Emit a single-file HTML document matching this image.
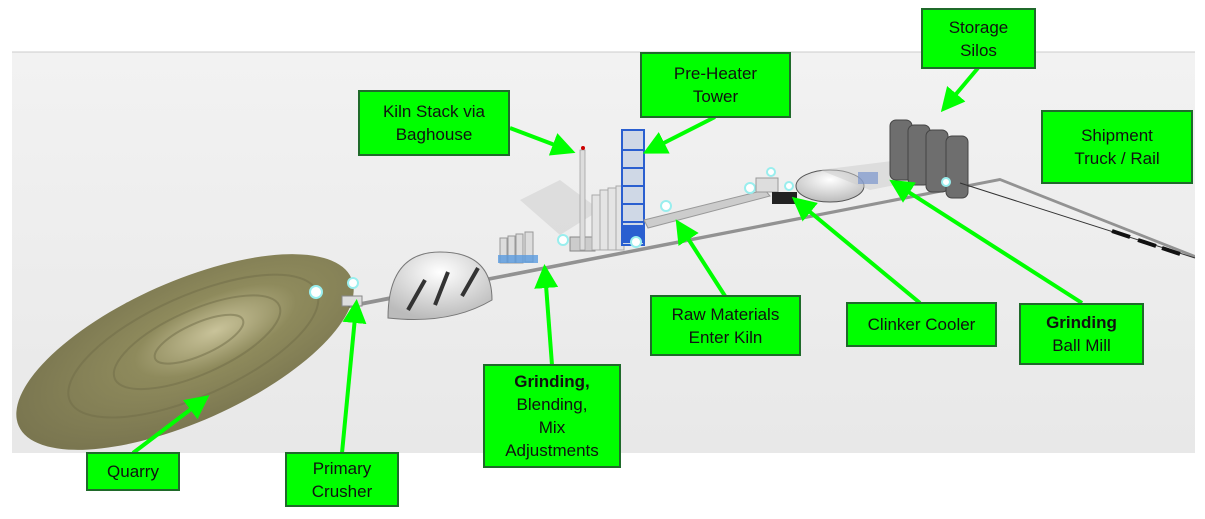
<!DOCTYPE html>
<html><head><style>
body{margin:0;width:1205px;height:519px;background:#fff;overflow:hidden;font-family:"Liberation Sans",sans-serif}
.l{position:absolute;background:#00ff00;border:2px solid #1f6a2a;box-sizing:border-box;display:flex;align-items:center;justify-content:center;text-align:center;font-size:17px;line-height:23px;color:#111}
</style></head><body>
<svg width="1205" height="519" style="position:absolute;left:0;top:0">
<defs>
<linearGradient id="bg" x1="0" y1="0" x2="0" y2="1"><stop offset="0" stop-color="#f2f2f2"/><stop offset="1" stop-color="#e8e8e8"/></linearGradient>
<radialGradient id="q" cx="0.6" cy="0.45" r="0.6"><stop offset="0" stop-color="#c9c39a"/><stop offset="0.4" stop-color="#8e8a5c"/><stop offset="1" stop-color="#7a7650"/></radialGradient>
<radialGradient id="d" cx="0.5" cy="0.3" r="0.7"><stop offset="0" stop-color="#fff"/><stop offset="1" stop-color="#bbb"/></radialGradient>
<marker id="a" markerWidth="6" markerHeight="6" refX="4" refY="3" orient="auto"><path d="M0,0 L6,3 L0,6z" fill="#00ff00"/></marker>
</defs>
<rect x="12" y="52" width="1183" height="401" fill="url(#bg)"/>
<line x1="12" y1="52" x2="1195" y2="52" stroke="#ccc"/>
<!-- quarry -->
<g transform="rotate(-24 185 352)">
<ellipse cx="185" cy="352" rx="182" ry="70" fill="url(#q)"/>
<ellipse cx="195" cy="350" rx="135" ry="50" fill="none" stroke="#6f6b47" stroke-width="2" opacity=".5"/>
<ellipse cx="200" cy="348" rx="90" ry="32" fill="none" stroke="#6f6b47" stroke-width="2" opacity=".5"/>
<ellipse cx="203" cy="346" rx="48" ry="16" fill="none" stroke="#6f6b47" stroke-width="2" opacity=".5"/>
</g>
<circle cx="316" cy="292" r="6" fill="#fff" stroke="#9ee" stroke-width="2"/>
<circle cx="353" cy="283" r="5" fill="#fff" stroke="#9ee" stroke-width="2"/>
<!-- line of plant -->
<polygon points="345,305 1000,178 1195,255 1195,258 1000,181 350,308" fill="#555" opacity=".6"/>
<rect x="342" y="296" width="20" height="10" fill="#ddd" stroke="#888"/>
<!-- dome -->
<path d="M388,318 Q388,252 440,252 Q492,252 492,300 Q450,325 388,318 Z" fill="url(#d)" stroke="#777"/>
<path d="M408,310 L425,280 M435,305 L448,272 M462,296 L478,268" stroke="#333" stroke-width="4"/>
<!-- silos raw -->
<g fill="#ddd" stroke="#999"><rect x="500" y="238" width="7" height="25"/><rect x="508" y="236" width="7" height="27"/><rect x="516" y="234" width="7" height="29"/><rect x="525" y="232" width="8" height="30"/></g>
<rect x="498" y="255" width="40" height="8" fill="#5a9be0" opacity=".8"/>
<circle cx="563" cy="240" r="5" fill="#fff" stroke="#9ee" stroke-width="2"/>
<rect x="570" y="237" width="25" height="14" fill="#ccc" stroke="#888"/>
<!-- stack -->
<polygon points="520,200 560,180 600,210 560,235" fill="#ccc" opacity=".5"/>
<rect x="580" y="150" width="5" height="100" fill="#ddd" stroke="#999" stroke-width=".7"/>
<circle cx="583" cy="148" r="2" fill="#c00"/>
<g fill="#e4e4e4" stroke="#aaa"><rect x="592" y="195" width="8" height="55"/><rect x="600" y="190" width="8" height="60"/><rect x="608" y="188" width="8" height="62"/><rect x="616" y="186" width="8" height="64"/></g>
<!-- tower -->
<rect x="622" y="130" width="22" height="115" fill="#cfd8e6" stroke="#2a5fd0" stroke-width="2"/>
<path d="M622,150H644M622,168H644M622,186H644M622,204H644M622,222H644" stroke="#2a5fd0" stroke-width="2"/>
<rect x="623" y="225" width="20" height="18" fill="#2a5fd0"/>
<circle cx="636" cy="242" r="5" fill="#fff" stroke="#9ee" stroke-width="2"/>
<!-- kiln -->
<polygon points="644,220 765,190 770,196 648,228" fill="#ccc" stroke="#999"/>
<circle cx="666" cy="206" r="5" fill="#fff" stroke="#9ee" stroke-width="2"/>
<circle cx="750" cy="188" r="5" fill="#fff" stroke="#9ee" stroke-width="2"/>
<circle cx="771" cy="172" r="4" fill="#fff" stroke="#9ee" stroke-width="2"/>
<rect x="756" y="178" width="22" height="14" fill="#ddd" stroke="#999"/>
<rect x="772" y="192" width="25" height="12" fill="#222"/>
<ellipse cx="830" cy="186" rx="34" ry="16" fill="url(#d)" stroke="#555"/>
<circle cx="789" cy="186" r="4" fill="#fff" stroke="#9ee" stroke-width="2"/>
<rect x="858" y="172" width="20" height="12" fill="#2a5fd0" opacity=".7"/>
<!-- silos -->
<polygon points="820,170 900,160 920,180 870,190" fill="#ccc" opacity=".5"/>
<g fill="#6e6e6e" stroke="#444"><rect x="890" y="120" width="22" height="60" rx="6"/><rect x="908" y="125" width="22" height="60" rx="6"/><rect x="926" y="130" width="22" height="62" rx="6"/><rect x="946" y="136" width="22" height="62" rx="6"/></g>
<circle cx="946" cy="182" r="4" fill="#fff" stroke="#9ee" stroke-width="2"/>
<line x1="960" y1="183" x2="1195" y2="258" stroke="#333"/>
<path d="M1112,231L1130,237M1138,240L1156,246M1162,248L1180,254" stroke="#111" stroke-width="4"/>
<!-- arrows -->
<g stroke="#00ff00" stroke-width="4" marker-end="url(#a)" fill="none">
<line x1="510" y1="128" x2="568" y2="150"/>
<line x1="715" y1="117" x2="650" y2="150"/>
<line x1="978" y1="68" x2="946" y2="106"/>
<line x1="725" y1="296" x2="680" y2="226"/>
<line x1="920" y1="303" x2="798" y2="202"/>
<line x1="1082" y1="303" x2="896" y2="184"/>
<line x1="552" y1="365" x2="545" y2="272"/>
<line x1="133" y1="453" x2="203" y2="400"/>
<line x1="342" y1="453" x2="356" y2="307"/>
</g>
</svg>
<div class="l" style="left:358px;top:90px;width:152px;height:66px">Kiln Stack via<br>Baghouse</div>
<div class="l" style="left:640px;top:52px;width:151px;height:66px">Pre-Heater<br>Tower</div>
<div class="l" style="left:921px;top:8px;width:115px;height:61px">Storage<br>Silos</div>
<div class="l" style="left:1041px;top:110px;width:152px;height:74px">Shipment<br>Truck / Rail</div>
<div class="l" style="left:650px;top:295px;width:151px;height:61px">Raw Materials<br>Enter Kiln</div>
<div class="l" style="left:846px;top:302px;width:151px;height:45px">Clinker Cooler</div>
<div class="l" style="left:1019px;top:303px;width:125px;height:62px"><span><b>Grinding</b><br>Ball Mill</span></div>
<div class="l" style="left:483px;top:364px;width:138px;height:104px"><span><b>Grinding,</b><br>Blending,<br>Mix<br>Adjustments</span></div>
<div class="l" style="left:86px;top:452px;width:94px;height:39px">Quarry</div>
<div class="l" style="left:285px;top:452px;width:114px;height:55px">Primary<br>Crusher</div>
</body></html>
